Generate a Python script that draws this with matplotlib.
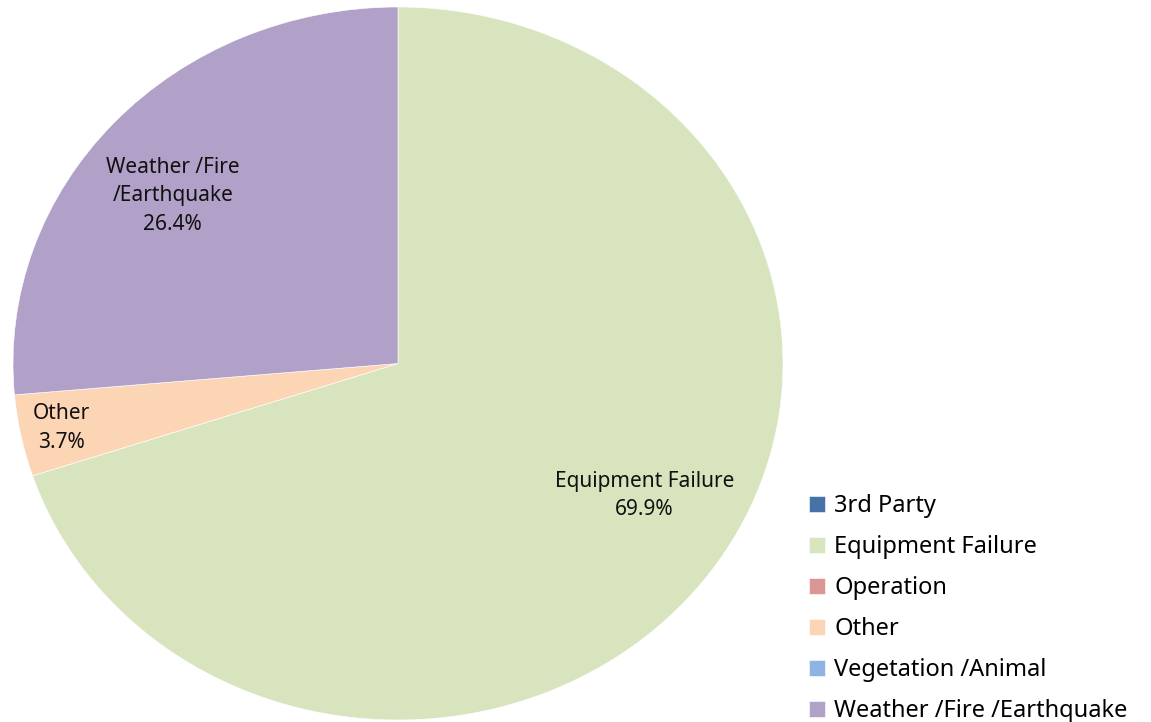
import numpy as np
import matplotlib
matplotlib.use("Agg")
import matplotlib.pyplot as plt

plt.rcParams['font.family'] = ['Noto Sans', 'DejaVu Sans']

# outage causes, share of events (%)
causes = ["3rd Party", "Equipment Failure", "Operation", "Other",
          "Vegetation /Animal", "Weather /Fire /Earthquake"]
shares = [0.0, 69.9, 0.0, 3.7, 0.0, 26.4]
colors = ["#4672A8", "#D7E4BD", "#D99694", "#FCD5B5", "#8EB4E3", "#B1A0C7"]

# in-slice label text and placement (data coords, pie radius = 1)
slice_text = {
    "Equipment Failure": ("Equipment Failure", 0.64, -0.37),
    "Other": ("Other", -0.875, -0.18),
    "Weather /Fire /Earthquake": ("Weather /Fire\n/Earthquake", -0.585, 0.47),
}

W, H = 1151, 722
fig = plt.figure(figsize=(W / 100, H / 100), dpi=100)
# pie is drawn slightly wider than tall
ax = fig.add_axes([13 / W, 2 / H, 770 / W, 713 / H])

wedges, _ = ax.pie(shares, colors=colors, startangle=90, counterclock=False,
                   wedgeprops=dict(edgecolor="white", linewidth=0.4))
ax.set_aspect("auto")
ax.set_xlim(-1, 1)
ax.set_ylim(-1, 1)
ax.axis("off")

for name, val in zip(causes, shares):
    if name not in slice_text:
        continue
    txt, x, y = slice_text[name]
    ax.text(x, y, f"{txt}\n{val:.1f}%", ha="center", va="center",
            fontsize=15, color="#111111", linespacing=1.48)

leg = fig.legend(wedges, causes, loc="upper left",
                 bbox_to_anchor=(800 / W, 1 - 485 / H), frameon=False,
                 fontsize=17, handlelength=0.65, handleheight=0.65,
                 handletextpad=0.4, labelspacing=0.72, borderaxespad=0)

fig.savefig("out.png", dpi=100)
